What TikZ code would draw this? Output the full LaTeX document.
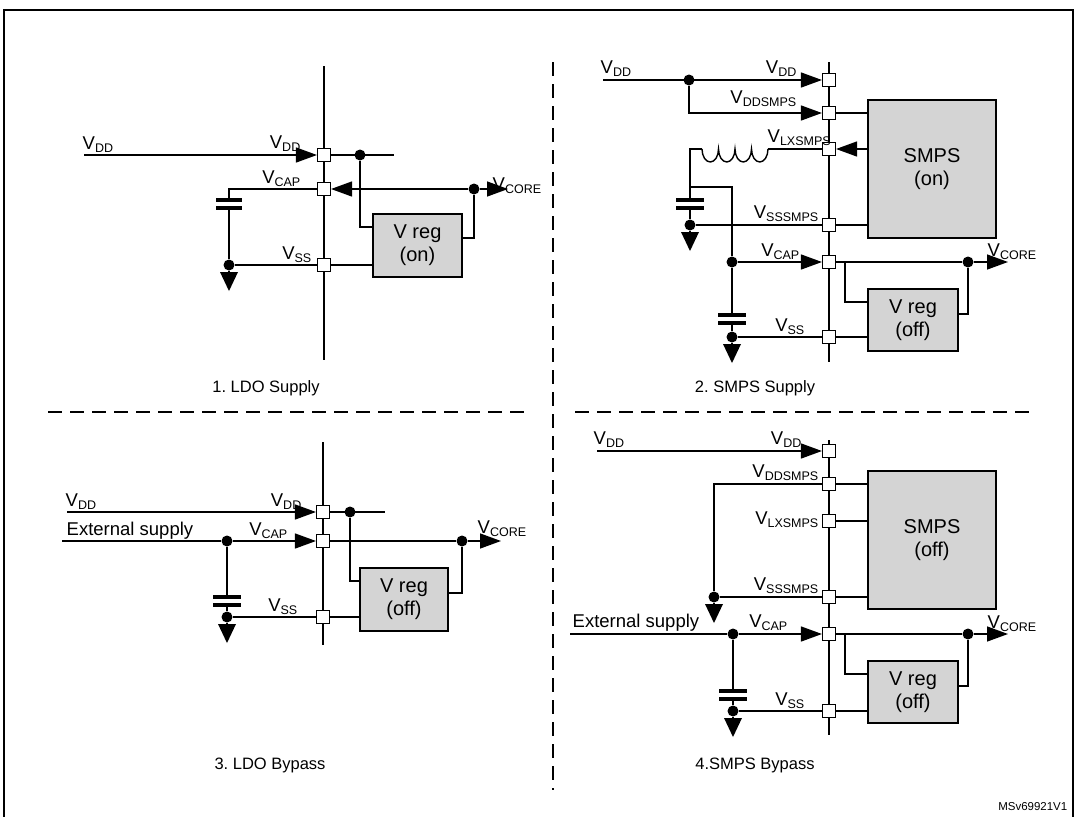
\documentclass[tikz,border=0pt]{standalone}
\usepackage{fontspec}
\setmainfont{Liberation Sans}
\usetikzlibrary{arrows.meta}
\newcommand\vv[1]{V\raisebox{-3pt}{\fontsize{12.5}{13}\selectfont #1}}
\frenchspacing
\begin{document}
\begin{tikzpicture}[x=1pt,y=-1pt,line width=1.4pt,
  pin/.style={draw,fill=white,line width=1.1pt,minimum size=13pt,inner sep=0pt},
  box/.style={draw,fill=black!17,line width=1.3pt,align=center,font=\fontsize{20}{23}\selectfont,inner sep=0pt},
  arr/.style={-{Triangle[length=21pt,width=15pt]}},
  dot/.style={circle,fill,inner sep=0pt,minimum size=11pt},
  lbl/.style={font=\fontsize{18.5}{20}\selectfont,inner sep=0pt},
  captxt/.style={font=\fontsize{16.5}{18}\selectfont,inner sep=0pt},
  plate/.style={line width=3.4pt},
  dsh/.style={line width=1.1pt,dash pattern=on 14pt off 8pt}]
\useasboundingbox (0,0) rectangle (1077,817);
% title (clipped at top edge)
\begin{scope}
\clip (0,0) rectangle (1077,10);
\node[anchor=base west,inner sep=0pt,font=\fontsize{17}{18}\selectfont\bfseries] (title) at (138,-5) {Figure 11. System supply configurations};
\end{scope}
\draw[line width=1.6pt] (4,830) -- (4,10) -- (1073,10) -- (1073,830);
\draw[dsh] (553,62) -- (553,790);
\draw[dsh] (48,412) -- (530,412);
\draw[dsh] (575,412) -- (1030,412);
\node[anchor=base east,font=\fontsize{11.5}{12}\selectfont,inner sep=0pt] (ms) at (1068,810) {MSv69921V1};

% ===== Panel 1 =====
\draw[line width=1.1pt] (324,66) -- (324,360);
\node[pin] (a1) at (324,155) {};
\node[pin] (a2) at (324,189) {};
\node[pin] (a3) at (324,265) {};
\node[box,minimum width=89pt,minimum height=63pt] (r1) at (417.5,245.5) {V reg\\(on)};
\coordinate (a1in) at (84,155);
\draw[arr] (a1in) -- (a1.west);
\draw (a1.east) -- (394,155);
\node[dot] (d1a) at (360,155) {};
\draw (d1a) -- (360,227) -- (r1.west|-0,227);
\node[dot] (d1b) at (474,189) {};
\coordinate (c1core) at (508,189);
\draw[arr] (d1b) -- (a2.east);
\draw[arr] (d1b) -- (c1core);
\draw (d1b) -- (474,238) -- (r1.east|-0,238);
\node[dot] (d1c) at (229,265) {};
\draw (a2.west) -- (229,189) -- (229,200);
\draw[plate] (216,200) -- (242,200) (216,208) -- (242,208);
\draw (229,208) -- (d1c);
\draw (d1c) -- (229,272);
\fill (220,272) -- (238,272) -- (229,291) -- cycle;
\draw (d1c) -- (a3.west);
\draw (a3.east) -- (r1.west|-a3);
\node[lbl,anchor=base west] at (82,149) {\vv{DD}};
\node[lbl,anchor=base east] at (301,148) {\vv{DD}};
\node[lbl,anchor=base east] at (301,183) {\vv{CAP}};
\node[lbl,anchor=base east] at (312,259) {\vv{SS}};
\node[lbl,anchor=base west] at (492,190) {\vv{CORE}};
\node[captxt] (t1) at (266,388) {1. LDO Supply};

% ===== Panel 2 =====
\draw[line width=1.1pt] (829,62) -- (829,362);
\node[pin] (b1) at (829,80) {};
\node[pin] (b2) at (829,113) {};
\node[pin] (b3) at (829,149) {};
\node[pin] (b4) at (829,225) {};
\node[pin] (b5) at (829,262) {};
\node[pin] (b6) at (829,337) {};
\node[box,minimum width=128pt,minimum height=138pt] (s2) at (932,169) {SMPS\\(on)};
\node[box,minimum width=90pt,minimum height=62pt] (r2) at (913,320) {V reg\\(off)};
\coordinate (b1in) at (603,80);
\draw[arr] (b1in) -- (b1.west);
\node[dot] (d2a) at (689,80) {};
\draw[arr] (d2a) -- (689,113) -- (b2.west);
\draw (b2.east) -- (s2.west|-b2);
\draw[arr] (s2.west|-b3) -- (b3.east);
\draw (b3.west) -- (768,149);
\draw (768,149) arc (0:180:8.25 and 13) arc (0:180:8.25 and 13) arc (0:180:8.25 and 13) arc (0:180:8.25 and 13);
\draw (702,149) -- (690,149) -- (690,200);
\draw[plate] (676,200) -- (704,200) (676,208) -- (704,208);
\node[dot] (d2b) at (690,225) {};
\draw (690,208) -- (d2b);
\draw (d2b) -- (690,232);
\fill (681,232) -- (699,232) -- (690,251) -- cycle;
\draw (d2b) -- (b4.west);
\draw (b4.east) -- (s2.west|-b4);
\node[dot] (d2c) at (732,262) {};
\draw (690,187) -- (732,187) -- (d2c);
\draw[arr] (d2c) -- (b5.west);
\draw (d2c) -- (732,315);
\draw[plate] (718,315) -- (746,315) (718,323) -- (746,323);
\node[dot] (d2d) at (732,337) {};
\draw (732,323) -- (d2d);
\draw (d2d) -- (732,344);
\fill (723,344) -- (741,344) -- (732,363) -- cycle;
\draw (d2d) -- (b6.west);
\draw (b6.east) -- (r2.west|-b6);
\node[dot] (d2e) at (968,262) {};
\coordinate (c2core) at (1008,262);
\draw (b5.east) -- (d2e);
\draw[arr] (d2e) -- (c2core);
\draw (d2e) -- (968,314) -- (r2.east|-0,314);
\draw (845,262) -- (845,302) -- (r2.west|-0,302);
\node[lbl,anchor=base west] at (600,73) {\vv{DD}};
\node[lbl,anchor=base east] at (797,73) {\vv{DD}};
\node[lbl,anchor=base east] at (797,103) {\vv{DDSMPS}};
\node[lbl,anchor=base west] at (767,142) {\vv{LXSMPS}};
\node[lbl,anchor=base east] at (819,218) {\vv{SSSMPS}};
\node[lbl,anchor=base east] at (800,256) {\vv{CAP}};
\node[lbl,anchor=base east] at (805,331) {\vv{SS}};
\node[lbl,anchor=base west] at (987,256) {\vv{CORE}};
\node[captxt] (t2) at (755,388) {2. SMPS Supply};

% ===== Panel 3 =====
\draw[line width=1.1pt] (323,442) -- (323,645);
\node[pin] (c1) at (323,512) {};
\node[pin] (c2) at (323,541) {};
\node[pin] (c3) at (323,617) {};
\node[box,minimum width=88pt,minimum height=63pt] (r3) at (404,599.5) {V reg\\(off)};
\coordinate (c1in) at (67,512);
\draw[arr] (c1in) -- (c1.west);
\draw (c1.east) -- (385,512);
\node[dot] (d3a) at (350,512) {};
\draw (d3a) -- (350,581) -- (r3.west|-0,581);
\coordinate (c2in) at (62,541);
\node[dot] (d3b) at (227,541) {};
\draw (c2in) -- (d3b);
\draw[arr] (d3b) -- (c2.west);
\node[dot] (d3c) at (462,541) {};
\coordinate (c3core) at (501,541);
\draw (c2.east) -- (d3c);
\draw[arr] (d3c) -- (c3core);
\draw (d3c) -- (462,593) -- (r3.east|-0,593);
\draw (d3b) -- (227,597);
\draw[plate] (213,597) -- (241,597) (213,605) -- (241,605);
\node[dot] (d3d) at (227,617) {};
\draw (227,605) -- (d3d);
\draw (d3d) -- (227,624);
\fill (218,624) -- (236,624) -- (227,643) -- cycle;
\draw (d3d) -- (c3.west);
\draw (c3.east) -- (r3.west|-c3);
\node[lbl,anchor=base west] at (65,506) {\vv{DD}};
\node[lbl,anchor=base west] at (66,535) {External supply};
\node[lbl,anchor=base east] at (302,506) {\vv{DD}};
\node[lbl,anchor=base east] at (288,535) {\vv{CAP}};
\node[lbl,anchor=base east] at (298,611) {\vv{SS}};
\node[lbl,anchor=base west] at (477,533) {\vv{CORE}};
\node[captxt] (t3) at (270,765) {3. LDO Bypass};

% ===== Panel 4 =====
\draw[line width=1.1pt] (829,440) -- (829,735);
\node[pin] (e1) at (829,451) {};
\node[pin] (e2) at (829,484) {};
\node[pin] (e3) at (829,521) {};
\node[pin] (e4) at (829,597) {};
\node[pin] (e5) at (829,634) {};
\node[pin] (e6) at (829,711) {};
\node[box,minimum width=128pt,minimum height=138pt] (s4) at (932,540) {SMPS\\(off)};
\node[box,minimum width=90pt,minimum height=62pt] (r4) at (913,692) {V reg\\(off)};
\coordinate (e1in) at (597,451);
\draw[arr] (e1in) -- (e1.west);
\draw (e2.east) -- (s4.west|-e2);
\draw (e3.east) -- (s4.west|-e3);
\draw (e4.east) -- (s4.west|-e4);
\node[dot] (d4a) at (714,597) {};
\draw (e2.west) -- (714,484) -- (d4a);
\draw (d4a) -- (e4.west);
\draw (d4a) -- (714,604);
\fill (705,604) -- (723,604) -- (714,623) -- cycle;
\coordinate (e5in) at (570,634);
\node[dot] (d4b) at (733,634) {};
\draw (e5in) -- (d4b);
\draw[arr] (d4b) -- (e5.west);
\draw (d4b) -- (733,691);
\draw[plate] (719,691) -- (747,691) (719,699) -- (747,699);
\node[dot] (d4c) at (733,711) {};
\draw (733,699) -- (d4c);
\draw (d4c) -- (733,718);
\fill (724,718) -- (742,718) -- (733,737) -- cycle;
\draw (d4c) -- (e6.west);
\draw (e6.east) -- (r4.west|-e6);
\node[dot] (d4d) at (968,634) {};
\coordinate (c4core) at (1008,634);
\draw (e5.east) -- (d4d);
\draw[arr] (d4d) -- (c4core);
\draw (d4d) -- (968,686) -- (r4.east|-0,686);
\draw (845,634) -- (845,674) -- (r4.west|-0,674);
\node[lbl,anchor=base west] at (593,444) {\vv{DD}};
\node[lbl,anchor=base east] at (802,444) {\vv{DD}};
\node[lbl,anchor=base east] at (819,477) {\vv{DDSMPS}};
\node[lbl,anchor=base east] at (819,524) {\vv{LXSMPS}};
\node[lbl,anchor=base east] at (819,590) {\vv{SSSMPS}};
\node[lbl,anchor=base west] at (572,627) {External supply};
\node[lbl,anchor=base east] at (788,627) {\vv{CAP}};
\node[lbl,anchor=base east] at (805,705) {\vv{SS}};
\node[lbl,anchor=base west] at (987,628) {\vv{CORE}};
\node[captxt] (t4) at (755,765) {4.SMPS Bypass};
\end{tikzpicture}
\end{document}
